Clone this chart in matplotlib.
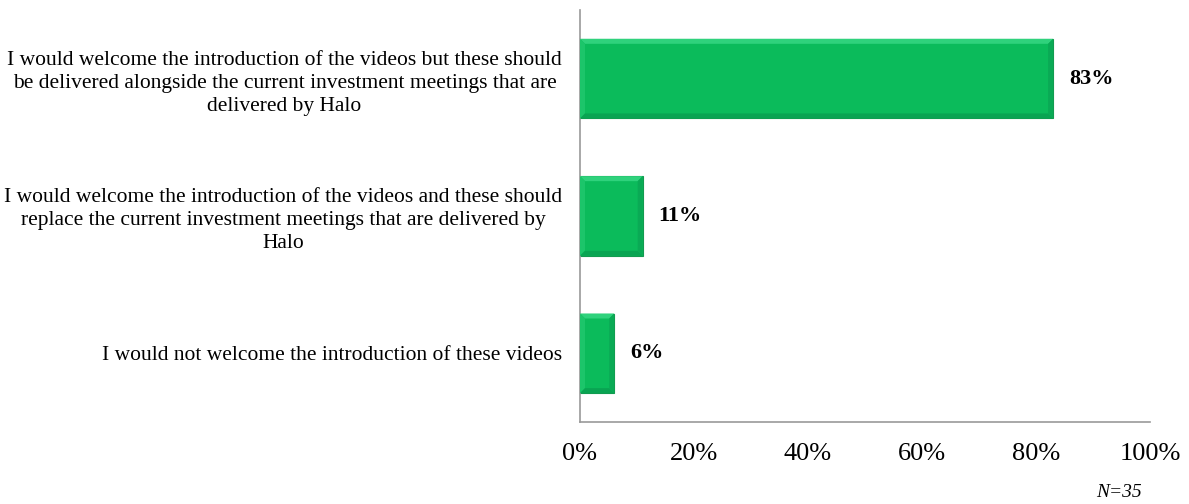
import matplotlib
matplotlib.use('agg')
import matplotlib.pyplot as plt
from matplotlib.patches import Polygon
from matplotlib.ticker import FuncFormatter

plt.rcParams['font.family'] = ['Liberation Serif', 'DejaVu Serif']

categories = [
    'I would welcome the introduction of the videos but these should\n'
    'be delivered alongside the current investment meetings that are\n'
    'delivered by Halo',
    'I would welcome the introduction of the videos and these should\n'
    'replace the current investment meetings that are delivered by\n'
    'Halo',
    'I would not welcome the introduction of these videos',
]
shares = [83, 11, 6]
x_ticks = [0, 20, 40, 60, 80, 100]
sample_note = 'N=35'

fig = plt.figure(figsize=(11.89, 5.04), dpi=100)
ax = fig.add_axes([0.4878, 0.1627, 0.4794, 0.8175])

pos = list(range(len(categories)))[::-1]
bars = ax.barh(pos, shares, height=0.58, color='#0BBB5B',
               edgecolor='#139A50', linewidth=0.8, zorder=2)

ax.set_xlim(0, 100)
ax.set_ylim(-0.5, len(categories) - 0.5)
ax.set_yticks(pos)
ax.set_yticklabels(categories, fontsize=15.5, multialignment='center',
                   linespacing=1.3)
ax.set_xticks(x_ticks)
ax.xaxis.set_major_formatter(FuncFormatter(lambda v, p: f'{v:.0f}%'))
ax.tick_params(axis='x', length=0, labelsize=19, pad=15)
ax.tick_params(axis='y', length=0, pad=13)
for s in ['top', 'right']:
    ax.spines[s].set_visible(False)
for s in ['left', 'bottom']:
    ax.spines[s].set_color('#999999')
    ax.spines[s].set_linewidth(1.2)

for b, v in zip(bars, shares):
    ax.text(v + 2.8, b.get_y() + b.get_height() / 2, f'{v}%',
            va='center', ha='left', fontsize=16, fontweight='bold')

# bevelled edges on each bar, drawn in pixel space
fig.canvas.draw()
bw = 5
for b in bars:
    e = b.get_window_extent()
    x0, y0, x1, y1 = e.x0, e.y0, e.x1, e.y1
    faces = [
        ([(x0, y1), (x1, y1), (x1 - bw, y1 - bw), (x0 + bw, y1 - bw)], '#2FD27C'),
        ([(x0, y0), (x0, y1), (x0 + bw, y1 - bw), (x0 + bw, y0 + bw)], '#1CC56A'),
        ([(x0, y0), (x1, y0), (x1 - bw, y0 + bw), (x0 + bw, y0 + bw)], '#09A452'),
        ([(x1, y0), (x1, y1), (x1 - bw, y1 - bw), (x1 - bw, y0 + bw)], '#0AAA55'),
    ]
    for pts, c in faces:
        fig.patches.append(Polygon(pts, closed=True, transform=None,
                                   facecolor=c, edgecolor='none', zorder=3))

fig.text(0.9605, 0.014, sample_note, ha='right', va='baseline',
         fontsize=14, style='italic')

fig.savefig('out.png', dpi=100)
